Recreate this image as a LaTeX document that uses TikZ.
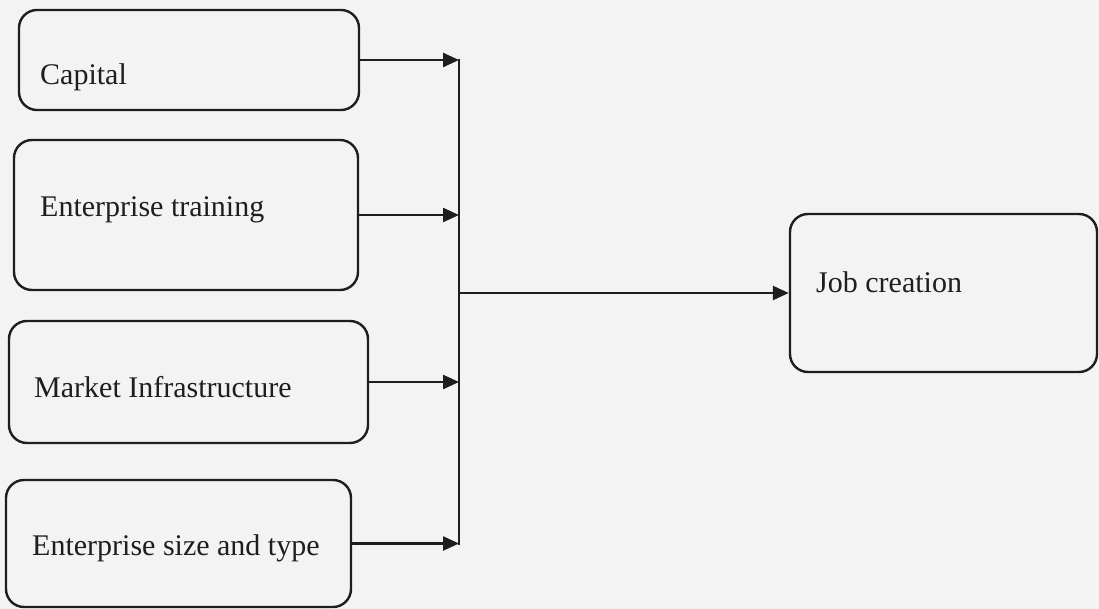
\documentclass[tikz,border=0pt]{standalone}
\usepackage{fontspec}
\setmainfont{Liberation Serif}
\usetikzlibrary{arrows.meta}
\definecolor{ink}{HTML}{1E1E1E}
\definecolor{paper}{HTML}{F3F3F3}
\begin{document}
\begin{tikzpicture}[x=1pt,y=-1pt,
  box/.style={draw=ink, line width=2.4pt, rounded corners=18pt, inner sep=0pt},
  lbl/.style={anchor=base west, inner sep=0pt, text=ink, font=\fontsize{30}{36}\selectfont},
  arr/.style={draw=ink, line width=2.4pt, -{Triangle[length=16pt,width=14pt]}},
  bus/.style={draw=ink, line width=2.4pt}]
\useasboundingbox (0,0) rectangle (1099,609);
\fill[paper] (0,0) rectangle (1099,609);
% boxes
\node[box, minimum width=340pt, minimum height=100pt] (cap) at (189,60) {};
\node[box, minimum width=344pt, minimum height=150pt] (train) at (186,215) {};
\node[box, minimum width=359pt, minimum height=122pt] (mkt) at (188.5,382) {};
\node[box, minimum width=345pt, minimum height=127pt] (size) at (178.5,543.5) {};
\node[box, minimum width=307pt, minimum height=158pt] (job) at (943.5,293) {};
% labels
\node[lbl] (capt) at (40,85) {Capital};
\node[lbl] (traint) at (40,217) {Enterprise training};
\node[lbl] (mktt) at (34,397) {Market Infrastructure};
\node[lbl] (sizet) at (32,555) {Enterprise size and type};
\node[lbl] (jobt) at (816,292) {Job creation};
% bus
\coordinate (busx) at (459,0);
\draw[bus] ([yshift=1.2pt]cap.east -| busx) -- ([yshift=-1.2pt]size.east -| busx);
% arrows
\draw[arr] (cap.east) -- (cap.east -| busx);
\draw[arr] (train.east) -- (train.east -| busx);
\draw[arr] (mkt.east) -- (mkt.east -| busx);
\draw[arr] (size.east) -- (size.east -| busx);
\draw[arr] (job.west -| busx) -- (job.west);
\end{tikzpicture}
\end{document}
